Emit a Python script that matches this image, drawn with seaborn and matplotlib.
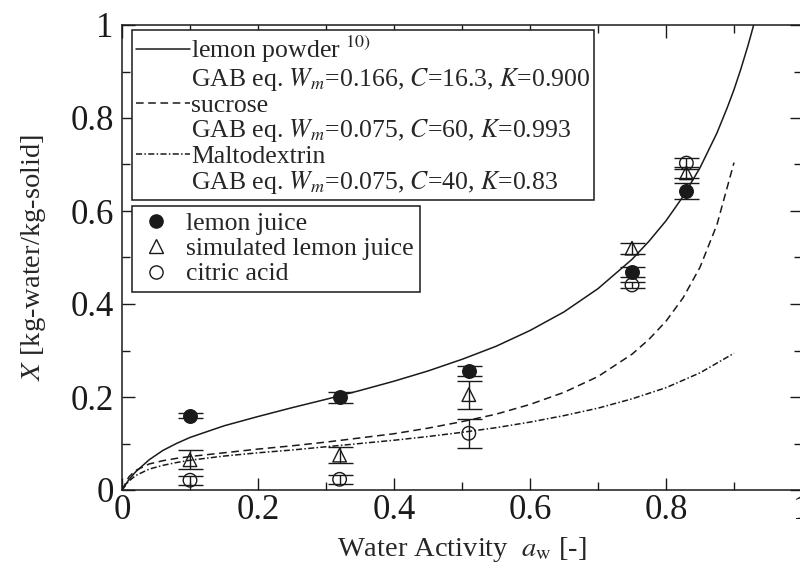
import numpy as np
import pandas as pd
import matplotlib
matplotlib.use("Agg")
import matplotlib.pyplot as plt
from matplotlib.lines import Line2D
from matplotlib.ticker import MultipleLocator, FuncFormatter
import seaborn as sns

# --- GAB curves ---
lemon_aw = [0, .01, .02, .04, .06, .08, .10, .15, .20, .25, .30, .35, .40, .45,
            .50, .55, .60, .65, .70, .75, .775, .80, .825, .85, .875, .89, .90,
            .91, .92, .925, .93]
lemon_X = [0, .022, .039, .065, .085, .100, .113, .138, .158, .177, .195, .214,
           .234, .256, .281, .309, .343, .383, .433, .496, .535, .579, .631,
           .693, .768, .822, .861, .905, .953, .979, 1.006]

sucrose_aw = [0, .01, .02, .04, .06, .08, .10, .15, .20, .25, .30, .35, .40,
              .45, .50, .55, .60, .65, .70, .75, .775, .80, .825, .85, .875, .90]
sucrose_X = [0, .028, .042, .056, .063, .068, .072, .080, .088, .095, .103,
             .112, .121, .133, .147, .163, .184, .210, .244, .292, .324, .363,
             .413, .479, .571, .704]

malto_aw = [0, .01, .02, .04, .06, .08, .10, .15, .20, .25, .30, .35, .40, .45,
            .50, .55, .60, .65, .70, .75, .80, .85, .90]
malto_X = [0, .019, .031, .045, .053, .059, .064, .073, .080, .086, .093, .100,
           .107, .115, .124, .134, .146, .160, .176, .196, .220, .252, .294]

# --- measured points ---
aw_meas = [0.10, 0.32, 0.51, 0.75, 0.83]
juice_X = [0.160, 0.199, 0.256, 0.469, 0.643]
juice_err = [0.006, 0.012, 0.010, 0.010, 0.018]
sim_X = [0.065, 0.075, 0.205, 0.520, 0.682]
sim_err = [0.020, 0.018, 0.030, 0.012, 0.012]
citric_X = [0.021, 0.023, 0.122, 0.441, 0.703]
citric_err = [0.010, 0.010, 0.031, 0.007, 0.012]

sns.set_theme(style="ticks")
plt.rcParams["font.family"] = ["Liberation Serif", "DejaVu Serif"]
plt.rcParams["mathtext.fontset"] = "stix"

fig = plt.figure(figsize=(8, 5.73), dpi=100)
ax = fig.add_axes([122 / 800, 1 - 490 / 573, 680 / 800, 465 / 573])

lw = 1.1
sns.lineplot(x=lemon_aw, y=lemon_X, ax=ax, color="k", lw=lw, sort=False,
             estimator=None)
sns.lineplot(x=sucrose_aw, y=sucrose_X, ax=ax, color="k", lw=lw, sort=False,
             estimator=None, linestyle=(0, (5, 3)))
sns.lineplot(x=malto_aw, y=malto_X, ax=ax, color="k", lw=lw, sort=False,
             estimator=None, linestyle=(0, (4, 1.5, 1, 1.5)))

# error bars
for yv, ev in [(juice_X, juice_err), (sim_X, sim_err), (citric_X, citric_err)]:
    ax.errorbar(aw_meas, yv, yerr=ev, fmt="none", ecolor="k", elinewidth=1.0,
                capsize=9, capthick=1.0, zorder=3)

df = pd.DataFrame({"aw": aw_meas * 3,
                   "X": juice_X + sim_X + citric_X,
                   "kind": ["juice"] * 5 + ["sim"] * 5 + ["citric"] * 5})
sns.scatterplot(data=df[df.kind == "juice"], x="aw", y="X", ax=ax, marker="o",
                s=95, color="k", edgecolor="k", linewidth=1.0, zorder=4)
sns.scatterplot(data=df[df.kind == "sim"], x="aw", y="X", ax=ax, marker="^",
                s=95, facecolor="none", edgecolor="k", linewidth=1.0, zorder=4)
sns.scatterplot(data=df[df.kind == "citric"], x="aw", y="X", ax=ax, marker="o",
                s=95, facecolor="none", edgecolor="k", linewidth=1.0, zorder=4)

ax.set_xlim(0, 1)
ax.set_ylim(0, 1)
ax.xaxis.set_major_locator(MultipleLocator(0.2))
ax.xaxis.set_minor_locator(MultipleLocator(0.1))
ax.yaxis.set_major_locator(MultipleLocator(0.2))
ax.yaxis.set_minor_locator(MultipleLocator(0.1))
fmt = FuncFormatter(lambda v, p: "%g" % round(v, 2))
ax.xaxis.set_major_formatter(fmt)
ax.yaxis.set_major_formatter(fmt)
ax.tick_params(which="both", direction="in", top=True, right=True, width=1.0,
               colors="k", labelsize=25)
ax.tick_params(which="major", length=9)
ax.tick_params(which="minor", length=5.5)
ax.tick_params(axis="x", pad=3)
ax.tick_params(axis="y", pad=6)
for sp in ax.spines.values():
    sp.set_linewidth(1.1)
    sp.set_color("k")

ax.set_xlabel(r"Water Activity  $a_\mathrm{w}$ [-]", fontsize=20.5, labelpad=6)
ax.set_ylabel(r"$X$ [kg-water/kg-solid]", fontsize=20.5, labelpad=16)

# legend with GAB curves
h1 = [Line2D([], [], color="k", lw=lw),
      Line2D([], [], color="none"),
      Line2D([], [], color="k", lw=lw, linestyle=(0, (5, 3))),
      Line2D([], [], color="none"),
      Line2D([], [], color="k", lw=lw, linestyle=(0, (4, 1.5, 1, 1.5))),
      Line2D([], [], color="none")]
l1 = ["lemon powder $^{10)}$",
      r"GAB eq. $W_m$=0.166, $C$=16.3, $K$=0.900",
      "sucrose",
      r"GAB eq. $W_m$=0.075, $C$=60, $K$=0.993",
      "Maltodextrin",
      r"GAB eq. $W_m$=0.075, $C$=40, $K$=0.83"]
leg1 = ax.legend(h1, l1, loc="upper left", bbox_to_anchor=(10 / 680, 460 / 465),
                 borderaxespad=0, fontsize=18.5, handlelength=2.1,
                 handletextpad=0.05, labelspacing=0.03, borderpad=0.15,
                 fancybox=False, framealpha=1, edgecolor="k")
leg1.get_frame().set_linewidth(1.1)
ax.add_artist(leg1)

h2 = [Line2D([], [], marker="o", color="k", linestyle="none", markersize=9.5),
      Line2D([], [], marker="^", color="k", mfc="none", linestyle="none",
             markersize=9.5),
      Line2D([], [], marker="o", color="k", mfc="none", linestyle="none",
             markersize=9.5)]
l2 = ["lemon juice", "simulated lemon juice", "citric acid"]
leg2 = ax.legend(h2, l2, loc="upper left", bbox_to_anchor=(10 / 680, 284 / 465),
                 borderaxespad=0, fontsize=18.5, handlelength=1.4,
                 handletextpad=0.45, labelspacing=0.08, borderpad=0.25,
                 fancybox=False, framealpha=1, edgecolor="k")
leg2.get_frame().set_linewidth(1.1)

fig.savefig("out.png", dpi=100)
